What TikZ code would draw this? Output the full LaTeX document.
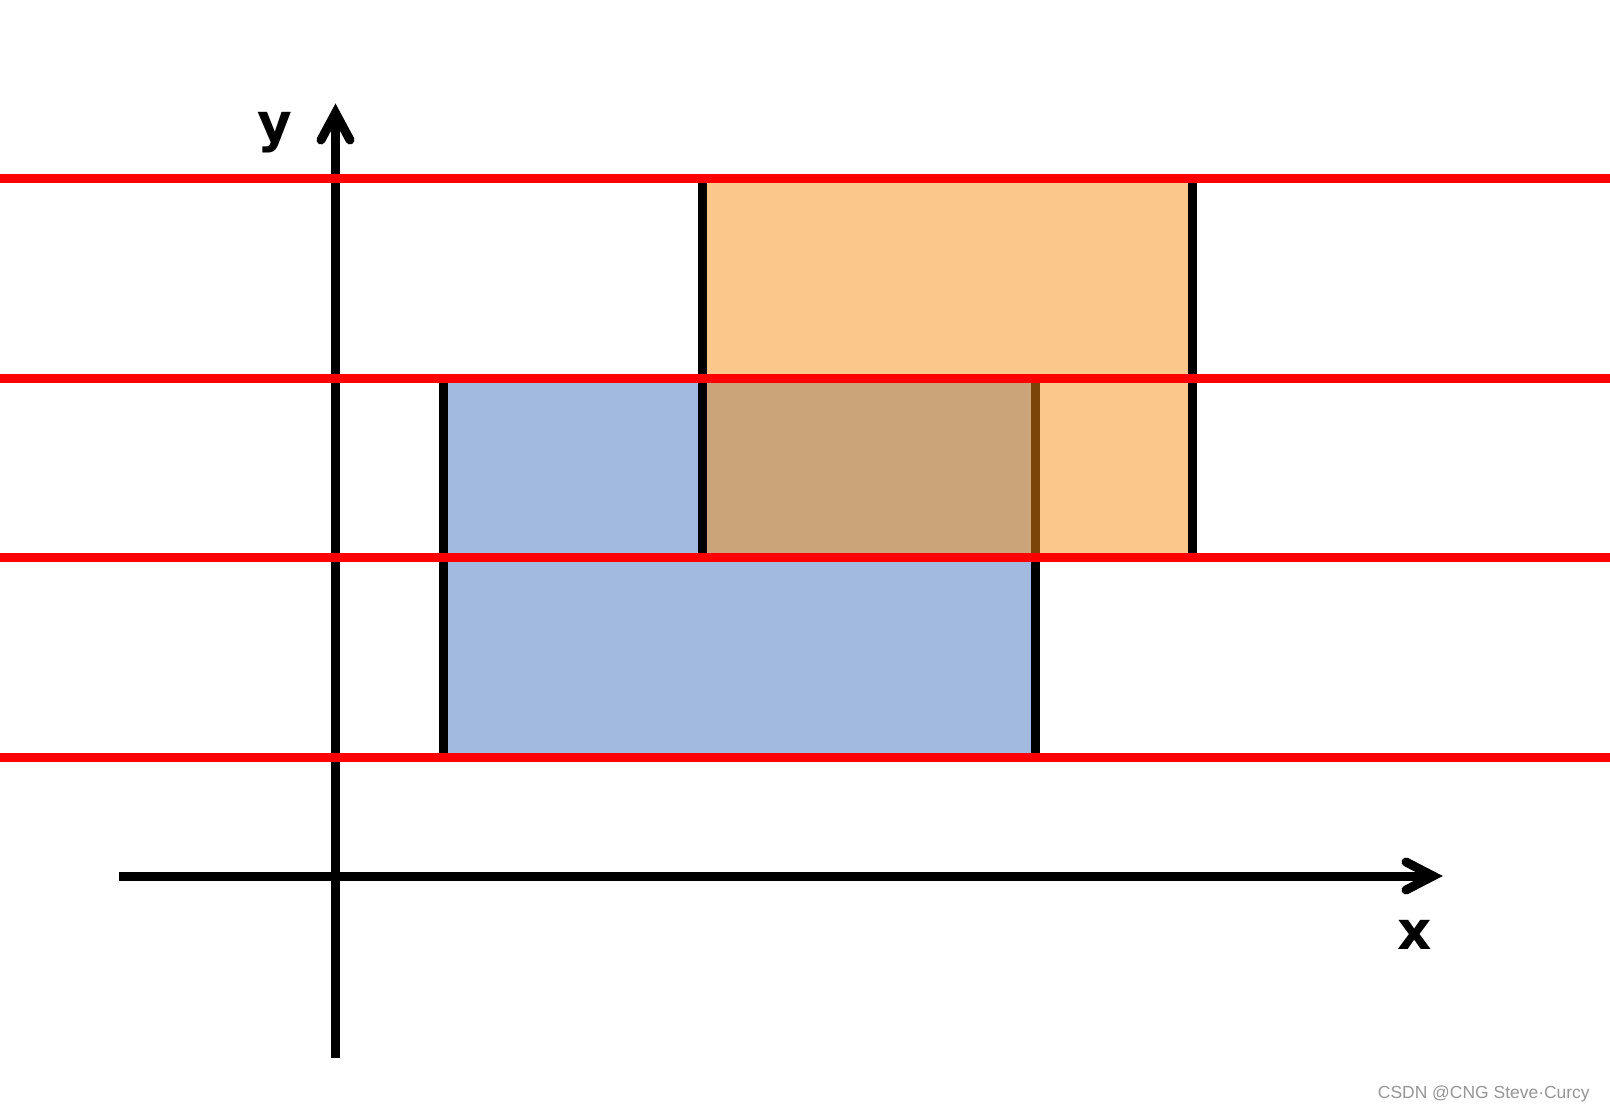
\documentclass[tikz,border=0pt]{standalone}
\usepackage{fontspec}
\setmainfont{Liberation Sans}
\newfontfamily\lblfont{DejaVu Sans}
\definecolor{redline}{RGB}{255,0,0}
\definecolor{orangefill}{RGB}{251,199,138}
\definecolor{bluefill}{RGB}{162,185,224}
\definecolor{overlapfill}{RGB}{204,164,121}
\definecolor{brownline}{RGB}{123,68,8}
\definecolor{wmgray}{RGB}{150,150,150}
\begin{document}
\begin{tikzpicture}[x=0.75pt,y=-0.75pt,
  edge/.style={line width=6.75pt, black},
  redl/.style={line width=6.75pt, redline},
  axisline/.style={line width=6.75pt, black},
  tipline/.style={line width=6.75pt, black, line cap=round, line join=miter},
  lbl/.style={font=\lblfont\bfseries\fontsize{40}{46}\selectfont, inner sep=0pt}]
\useasboundingbox (0,0) rectangle (1610,1113);
\fill[white] (0,0) rectangle (1610,1113);
% rectangles
\fill[bluefill] (443.5,378.5) rectangle (1035.5,757.5);
\fill[orangefill] (702.5,178.5) rectangle (1192,557.5);
\fill[overlapfill] (702.5,378.5) rectangle (1035.5,557.5);
% vertical edges
\draw[edge] (443.5,378.5) -- (443.5,757.5);
\draw[edge] (1035.5,557.5) -- (1035.5,757.5);
\draw[edge, brownline] (1035.5,378.5) -- (1035.5,557.5);
\draw[edge] (702.5,178.5) -- (702.5,557.5);
\draw[edge] (1192,178.5) -- (1192,557.5);
% axes
\coordinate (ybot) at (335.5,1057.5);
\coordinate (ytip) at (335.5,113);
\coordinate (xleft) at (119,876);
\coordinate (xtip) at (1433,876);
\draw[axisline] (ybot) -- ([yshift=-3pt]ytip);
\draw[tipline] (321,140) -- (ytip) -- (350,140);
\draw[axisline] (xleft) -- ([xshift=-3pt]xtip);
\draw[tipline] (1406,862) -- (xtip) -- (1406,890);
% red lines
\draw[redl] (0,178.5) -- (1610,178.5);
\draw[redl] (0,378.5) -- (1610,378.5);
\draw[redl] (0,557.5) -- (1610,557.5);
\draw[redl] (0,757.5) -- (1610,757.5);
% labels
\node[lbl, anchor=base] (ylabel) at (275,141.5) {y};
\node[lbl, anchor=base] (xlabel) at (1415,949) {x};
\node[font=\fontsize{13.1}{16}\selectfont, text=wmgray, anchor=base east, inner sep=0pt] (wm) at (1590,1098) {CSDN @CNG Steve·Curcy};
\end{tikzpicture}
\end{document}
